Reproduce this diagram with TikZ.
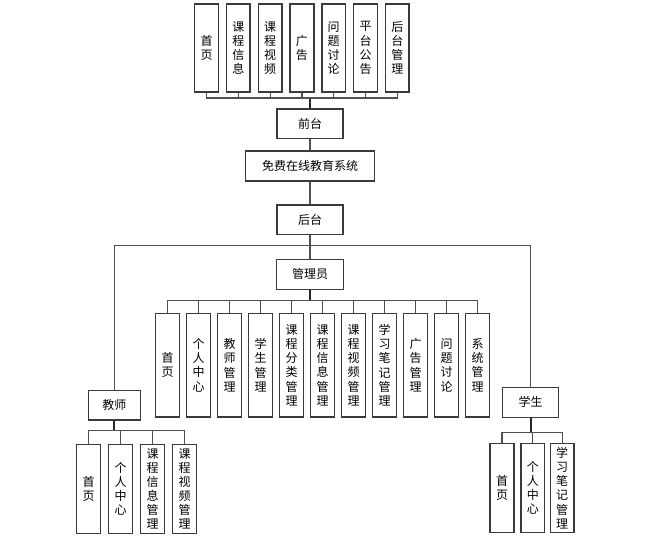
\documentclass[tikz,border=0pt]{standalone}
\usepackage{fontspec}
\usepackage{tikz}
\usetikzlibrary{positioning}
\setmainfont{Noto Sans CJK SC}
\definecolor{boxGray}{HTML}{3A3A3A}
\definecolor{lineGray}{HTML}{505050}

\begin{document}
\begin{tikzpicture}[
x=0.75pt, y=-0.75pt,
every node/.style={font=\fontsize{9}{10.6}\selectfont},
hbox/.style={draw=boxGray, line width=1.1pt, align=center, inner sep=0pt, minimum height=22pt},
vbox/.style={draw=boxGray, line width=1.1pt, align=center, inner sep=0pt, minimum width=17.8pt},
topbox/.style={vbox, minimum height=66pt},
admbox/.style={vbox, minimum width=18.3pt, minimum height=77.8pt},
subbox/.style={vbox, minimum height=67pt},
link/.style={draw=lineGray, line width=0.9pt},
trunk/.style={draw=black!85, line width=1.4pt}
]
\useasboundingbox (0,0) rectangle (651,542);

% Front-end modules
\node[topbox] (f1) at (206.5,48) {首\\页};
\node[topbox] (f2) at (238.3,48) {课\\程\\信\\息};
\node[topbox] (f3) at (270.1,48) {课\\程\\视\\频};
\node[topbox] (f4) at (301.9,48) {广\\告};
\node[topbox] (f5) at (333.7,48) {问\\题\\讨\\论};
\node[topbox] (f6) at (365.5,48) {平\\台\\公\\告};
\node[topbox] (f7) at (397.3,48) {后\\台\\管\\理};

% Front, system, back
\node[hbox, minimum width=49.7pt] (qt) at (310,123.7) {前台};
\node[hbox, minimum width=96.7pt, minimum height=22.5pt] (sys) at (310,166) {免费在线教育系统};
\node[hbox, minimum width=49.7pt] (ht) at (310,219.8) {后台};
\coordinate (qtBus) at (310,98);
\draw[trunk] (qt.north) -- (qtBus);
\foreach \f in {f1,f2,f3,f4,f5,f6,f7} \draw[link] (\f.south) |- (qtBus);
\draw[link] (qt.south) -- (sys.north);
\draw[link] (sys.south) -- (ht.north);

% Roles
\node[hbox, minimum width=50pt, minimum height=22.5pt] (gly) at (310,274.3) {管理员};
\node[hbox, minimum width=39pt] (js) at (114.3,405.2) {教师};
\node[hbox, minimum width=42pt, minimum height=22.5pt] (xs) at (530.7,402.3) {学生};
\coordinate (htBus) at (310,245.7);
\draw[link] (ht.south) -- (gly.north);
\draw[link] (js.north) |- (htBus);
\draw[link] (xs.north) |- (htBus);

% Administrator modules
\node[admbox] (a1) at (167.5,365.2) {首\\页};
\node[admbox] (a2) at (198.5,365.2) {个\\人\\中\\心};
\node[admbox] (a3) at (229.5,365.2) {教\\师\\管\\理};
\node[admbox] (a4) at (260.5,365.2) {学\\生\\管\\理};
\node[admbox] (a5) at (291.5,365.2) {课\\程\\分\\类\\管\\理};
\node[admbox] (a6) at (322.5,365.2) {课\\程\\信\\息\\管\\理};
\node[admbox] (a7) at (353.5,365.2) {课\\程\\视\\频\\管\\理};
\node[admbox] (a8) at (384.5,365.2) {学\\习\\笔\\记\\管\\理};
\node[admbox] (a9) at (415.5,365.2) {广\\告\\管\\理};
\node[admbox] (a10) at (446.5,365.2) {问\\题\\讨\\论};
\node[admbox] (a11) at (477.5,365.2) {系\\统\\管\\理};
\coordinate (glyBus) at (310,300.3);
\draw[trunk] (gly.south) -- (glyBus);
\foreach \a in {a1,a2,a3,a4,a5,a6,a7,a8,a9,a10,a11} \draw[link] (\a.north) |- (glyBus);

% Teacher modules
\node[subbox] (t1) at (88.5,489) {首\\页};
\node[subbox] (t2) at (120.5,489) {个\\人\\中\\心};
\node[subbox] (t3) at (152.5,489) {课\\程\\信\\息\\管\\理};
\node[subbox] (t4) at (184.5,489) {课\\程\\视\\频\\管\\理};
\coordinate (jsBus) at (114.3,430.7);
\draw[trunk] (js.south) -- (jsBus);
\foreach \t in {t1,t2,t3,t4} \draw[link] (\t.north) |- (jsBus);

% Student modules
\node[subbox] (s1) at (502,488) {首\\页};
\node[subbox] (s2) at (532.8,488) {个\\人\\中\\心};
\node[subbox] (s3) at (562.2,488) {学\\习\\笔\\记\\管\\理};
\coordinate (xsBus) at (530.7,432.7);
\draw[trunk] (xs.south) -- (xsBus);
\foreach \s in {s1,s2,s3} \draw[link] (\s.north) |- (xsBus);

\end{tikzpicture}
\end{document}
